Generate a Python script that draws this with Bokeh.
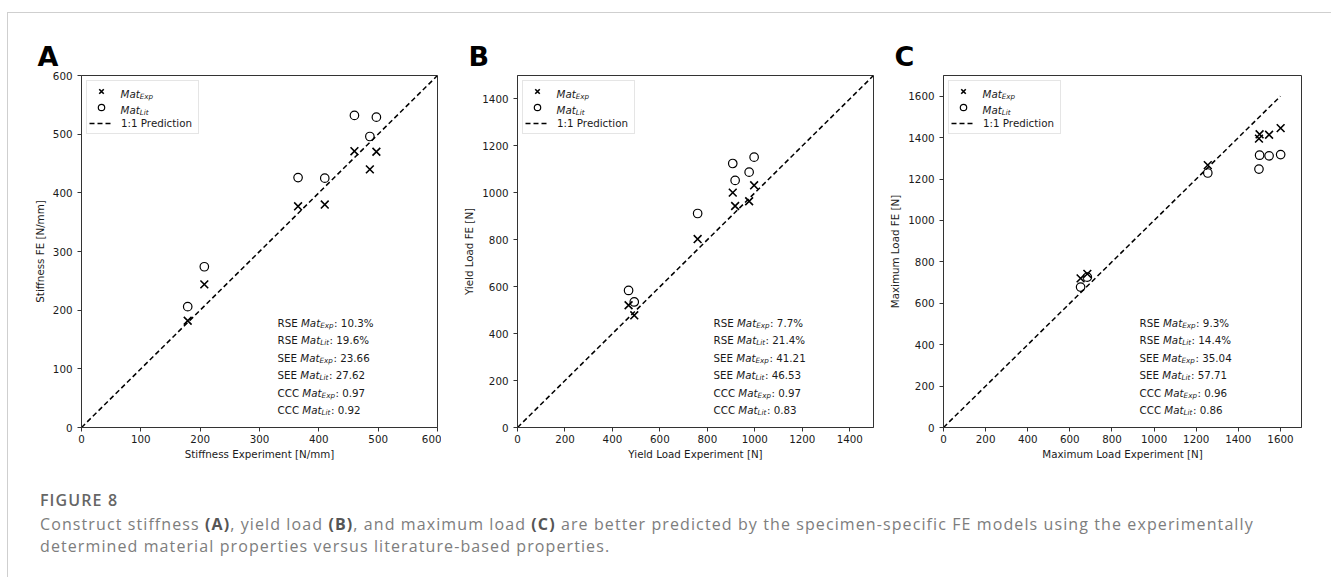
from bokeh.plotting import figure
from bokeh.models import Range1d, FixedTicker, Legend, LegendItem, Label, Div
from bokeh.layouts import row, column
from bokeh.embed import file_html
from bokeh.resources import INLINE

# ---------------- data ----------------
stiff_exp = [179, 207, 365, 410, 460, 486, 497]
stiff_fe_exp = [182, 244, 377, 380, 471, 440, 470]
stiff_fe_lit = [206, 274, 426, 425, 532, 496, 529]

yield_exp = [468, 492, 759, 907, 917, 976, 997]
yield_fe_exp = [521, 478, 803, 1001, 944, 964, 1032]
yield_fe_lit = [584, 535, 912, 1125, 1053, 1088, 1152]

max_exp = [651, 683, 1255, 1498, 1501, 1546, 1601]
max_fe_exp = [720, 742, 1267, 1395, 1416, 1414, 1446]
max_fe_lit = [678, 726, 1229, 1248, 1315, 1312, 1318]

diag_a = [0, 600]
diag_b = [0, 1500]
diag_c = [0, 1600]

ticks_a = [0, 100, 200, 300, 400, 500, 600]
ticks_b = [0, 200, 400, 600, 800, 1000, 1200, 1400]
ticks_c = [0, 200, 400, 600, 800, 1000, 1200, 1400, 1600]

stat_names = ["RSE", "RSE", "SEE", "SEE", "CCC", "CCC"]
stat_subs = ["Exp", "Lit", "Exp", "Lit", "Exp", "Lit"]
stats_a = ["10.3%", "19.6%", "23.66", "27.62", "0.97", "0.92"]
stats_b = ["7.7%", "21.4%", "41.21", "46.53", "0.97", "0.83"]
stats_c = ["9.3%", "14.4%", "35.04", "57.71", "0.96", "0.86"]

legend_subs = ["Exp", "Lit"]
legend_line_label = "1:1 Prediction"

# ---------------- style ----------------
FONT = "DejaVu Sans"
FS = 10.3
SUB = 7.2
TXT = "#1a1a1a"
AX = "#333333"
FH = 354
HEIGHT = 456

W = {"R": .695, "S": .635, "E": .632, "C": .698, " ": .318, "M": .863, "a": .613,
     "t": .392, "L": .557, "i": .278, "x": .592, "p": .635, ":": .337, ".": .318,
     "%": .950}
for d in "0123456789":
    W[d] = .636


def tw(s, size):
    return sum(W.get(c, .6) for c in s) * size


def make_panel(letter, letter_off, xlab, ylab, xs, ye, yl, diag, ticks, top, stats,
               width, mbl, mbt, fw):
    mbr = width - mbl - fw
    p = figure(width=width, height=HEIGHT, x_range=Range1d(0, top), y_range=Range1d(0, top),
               output_backend="svg", toolbar_location=None,
               min_border_left=mbl, min_border_right=mbr, min_border_top=mbt,
               min_border_bottom=HEIGHT - mbt - FH, title=letter)
    p.title.align = "left"
    p.title.offset = letter_off
    p.title.standoff = 7
    p.title.text_font = FONT
    p.title.text_font_size = "27px"
    p.title.text_font_style = "bold"
    p.title.text_color = "black"

    p.xgrid.visible = False
    p.ygrid.visible = False
    p.outline_line_color = AX
    p.outline_line_width = 1
    p.background_fill_color = "white"
    p.border_fill_color = "white"

    for ax in (p.xaxis[0], p.yaxis[0]):
        ax.ticker = FixedTicker(ticks=ticks)
        ax.minor_tick_line_color = None
        ax.major_tick_in = 0
        ax.major_tick_out = 4
        ax.major_tick_line_color = AX
        ax.axis_line_color = AX
        ax.major_label_text_font = FONT
        ax.major_label_text_font_size = f"{FS}px"
        ax.major_label_text_color = TXT
        ax.axis_label_text_font = FONT
        ax.axis_label_text_font_size = f"{FS}px"
        ax.axis_label_text_font_style = "normal"
        ax.axis_label_text_color = TXT
    p.xaxis[0].axis_label = xlab
    p.yaxis[0].axis_label = ylab
    p.xaxis[0].major_label_standoff = 3
    p.xaxis[0].axis_label_standoff = 2
    p.yaxis[0].major_label_standoff = 5
    p.yaxis[0].axis_label_standoff = 4

    r_e = p.scatter(xs, ye, marker="x", size=11, line_color="black", line_width=1.6)
    r_l = p.scatter(xs, yl, marker="circle", size=8.5, fill_color=None,
                    line_color="black", line_width=1.2)
    r_d = p.line(diag, diag, line_dash="5 3", line_color="black", line_width=1.5)

    legend = Legend(items=[LegendItem(label=" ", renderers=[r_e]),
                           LegendItem(label="  ", renderers=[r_l]),
                           LegendItem(label=legend_line_label, renderers=[r_d])],
                    location="top_left", margin=5, padding=2, spacing=0,
                    glyph_height=16, glyph_width=24, label_height=16, label_standoff=8,
                    label_width=75,
                    label_text_font=FONT, label_text_font_size=f"{FS}px",
                    label_text_color=TXT, border_line_color="#cccccc",
                    border_line_width=1, background_fill_color=None,
                    background_fill_alpha=0)
    p.add_layout(legend)

    def fx(dx):
        return dx / fw * top

    def fy(dy):
        return top - dy / FH * top

    def seg(text, dx, dy, size, italic):
        p.add_layout(Label(x=fx(dx), y=fy(dy), text=text, text_font=FONT,
                           text_font_size=f"{size}px",
                           text_font_style="italic" if italic else "normal",
                           text_color=TXT, text_baseline="alphabetic", text_align="left",
                           level="overlay"))

    # legend labels Mat_Exp / Mat_Lit
    for i, sub in enumerate(legend_subs):
        base = 15 + 16 * i + 3.7
        seg("Mat", 39, base, FS, True)
        seg(sub, 39 + tw("Mat", FS), base + 2.5, SUB, True)

    # statistics block
    for j in range(6):
        base = 245 + 17.6 * j + 3.7
        x0 = 196
        seg(stat_names[j], x0, base, FS, False)
        x1 = x0 + tw(stat_names[j] + " ", FS)
        seg("Mat", x1, base, FS, True)
        x2 = x1 + tw("Mat", FS)
        seg(stat_subs[j], x2, base + 2.5, SUB, True)
        x3 = x2 + tw(stat_subs[j], SUB) + 0.5
        seg(": " + stats[j], x3, base, FS, False)
    return p


pA = make_panel("A", -44, "Stiffness Experiment [N/mm]", "Stiffness FE [N/mm]",
                stiff_exp, stiff_fe_exp, stiff_fe_lit, diag_a, ticks_a, 600, stats_a,
                433, 73, 62, 356)
pB = make_panel("B", -49, "Yield Load Experiment [N]", "Yield Load FE [N]",
                yield_exp, yield_fe_exp, yield_fe_lit, diag_b, ticks_b, 1500, stats_b,
                434, 76, 60, 356)
pC = make_panel("C", -49, "Maximum Load Experiment [N]", "Maximum Load FE [N]",
                max_exp, max_fe_exp, max_fe_lit, diag_c, ticks_c, 1700, stats_c,
                453, 68, 60, 358)

caption_title = "FIGURE 8"
caption_html = (
    "<div style=\"margin:0;padding:16px 0 0 27px;font-family:'Open Sans',sans-serif;"
    "color:#7d7d7d;font-size:16px;letter-spacing:1.1px;white-space:nowrap;\">"
    "<div style=\"font-weight:600;color:#666666;line-height:20px;margin-bottom:3px;\">"
    + caption_title + "</div>"
    "<div style=\"line-height:22px;\">Construct stiffness <b style=\"color:#555555\">(A)</b>, "
    "yield load <b style=\"color:#555555\">(B)</b>, and maximum load "
    "<b style=\"color:#555555\">(C)</b> are better predicted by the specimen-specific FE "
    "models using the experimentally<br>determined material properties versus "
    "literature-based properties.</div></div>"
)
cap = Div(text=caption_html, width=1320, height=100)

layout = column(row(pA, pB, pC), cap, margin=(12, 0, 0, 7),
                styles={"border-left": "1px solid #cfcfcf",
                        "border-right": "1px solid #cfcfcf",
                        "border-top": "1px solid #cfcfcf"})

open("out.html", "w").write(file_html(layout, INLINE))
